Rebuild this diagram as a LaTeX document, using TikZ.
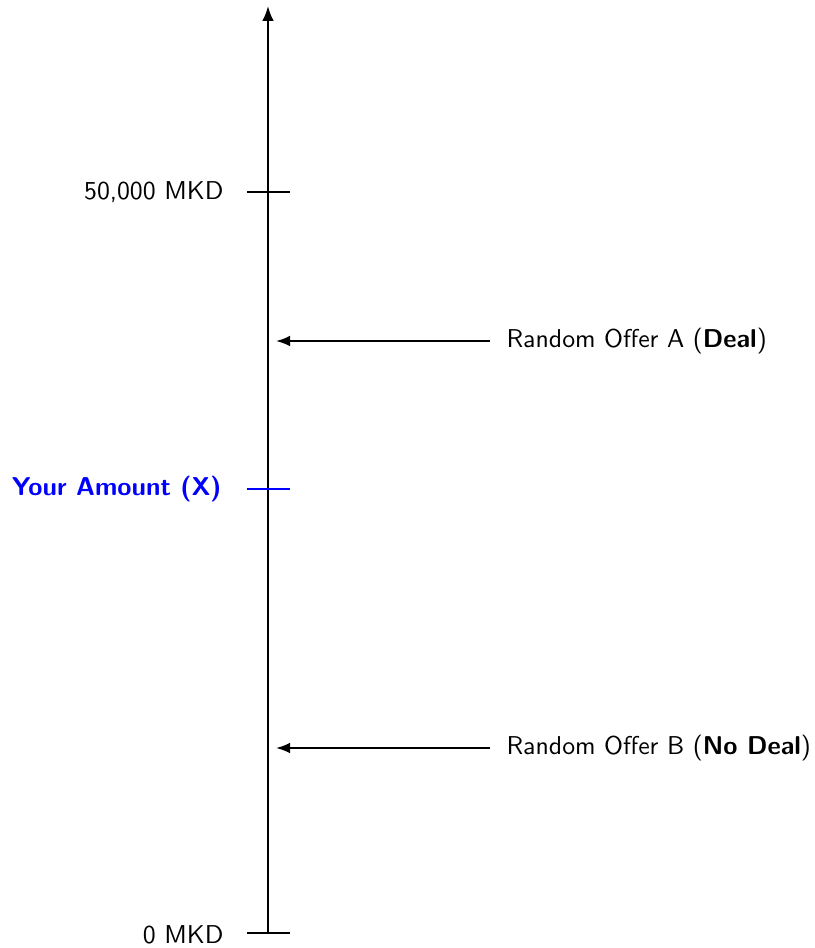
\documentclass[tikz,border=0pt]{standalone}
\usetikzlibrary{arrows.meta}
\renewcommand{\familydefault}{\sfdefault}
\begin{document}
\begin{tikzpicture}[x=0.3876pt,y=-0.3876pt,
  axisline/.style={line width=0.8pt},
  tickline/.style={line width=0.8pt},
  offerarrow/.style={line width=0.8pt,-{Latex[length=5.5pt,width=4.2pt]}},
  lab/.style={inner sep=0pt,font=\sffamily}]
\useasboundingbox (0,0) rectangle (815,948);
\coordinate (bot) at (268,933);
\coordinate (top) at (268,6);
\draw[axisline,-{Latex[length=5.8pt,width=4.5pt]}] (bot) -- (top);
% ticks
\coordinate (t50a) at (247,192); \coordinate (t50b) at (290,192);
\coordinate (t0a) at (247,933); \coordinate (t0b) at (290,933);
\coordinate (tXa) at (247,489); \coordinate (tXb) at (290,489);
\draw[tickline] (t50a) -- (t50b);
\draw[tickline] (t0a) -- (t0b);
\draw[tickline,blue] (tXa) -- (tXb);
\node[lab,anchor=east] (l50) at (224,192) {50,000 MKD};
\node[lab,anchor=east] (l0) at (224,935) {0 MKD};
\node[lab,anchor=east,text=blue,font=\sffamily\bfseries] (lX) at (222,489) {Your Amount (X)};
% offers
\node[lab,anchor=west] (oA) at (506,341) {Random Offer A (\textbf{Deal})};
\node[lab,anchor=west] (oB) at (506,748) {Random Offer B (\textbf{No Deal})};
\coordinate (aA) at (276,341);
\coordinate (aB) at (276,748);
\draw[offerarrow] (oA.west) ++(-16,0) -- (aA);
\draw[offerarrow] (oB.west) ++(-16,0) -- (aB);
\end{tikzpicture}
\end{document}
